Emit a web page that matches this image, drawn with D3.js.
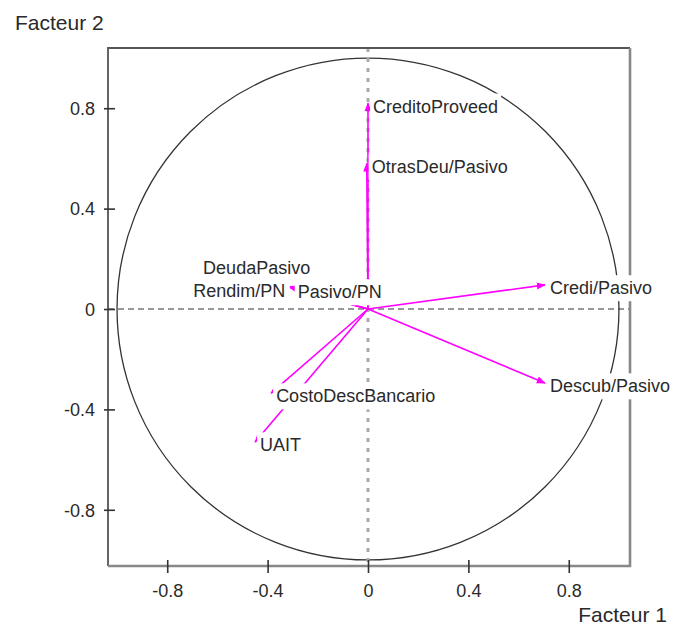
<!DOCTYPE html>
<html>
<head>
<meta charset="utf-8">
<script src="https://cdn.jsdelivr.net/npm/d3@7"></script>
<style>
  body { margin: 0; background: #fff; }
  svg text { font-family: "Liberation Sans", Arial, sans-serif; fill: #2a2a2a; }
</style>
</head>
<body>
<div id="chart_area"></div>
<script>
// variables of the correlation circle
var names  = ["CreditoProveed", "OtrasDeu/Pasivo", "Credi/Pasivo", "Descub/Pasivo",
              "CostoDescBancario", "UAIT", "DeudaPasivo", "Rendim/PN", "Pasivo/PN"];
var fact1  = [0.0, -0.005, 0.705, 0.705, -0.386, -0.45, -0.31, -0.31, -0.30];
var fact2  = [0.82, 0.58, 0.096, -0.295, -0.335, -0.53, 0.09, 0.085, 0.08];
// where the label sits against the tip
var labelSide = ["right", "right", "right", "right", "right", "right", "up", "left", "right"];
var tickVals = [-0.8, -0.4, 0, 0.4, 0.8];

var w = 680;
var h = 626;

var svg = d3.select("#chart_area")
  .append("svg")
  .attr("width", w)
  .attr("height", h);

var x = d3.scaleLinear().domain([-1.036, 1.044]).range([108, 630]);
var y = d3.scaleLinear().domain([-1.024, 1.04]).range([566, 48]);

// arrow head
svg.append("defs").append("marker")
  .attr("id", "head")
  .attr("viewBox", "0 -5 10 10")
  .attr("refX", 9)
  .attr("refY", 0)
  .attr("markerUnits", "userSpaceOnUse")
  .attr("markerWidth", 9)
  .attr("markerHeight", 9)
  .attr("orient", "auto")
  .append("path")
  .attr("d", "M0,-4L10,0L0,4Z")
  .attr("fill", "#ff00ff");

// unit circle
svg.append("circle")
  .attr("cx", x(0))
  .attr("cy", y(0))
  .attr("r", x(1) - x(0))
  .attr("fill", "none")
  .attr("stroke", "#333")
  .attr("stroke-width", 1.3);

// dashed zero lines
svg.append("line")
  .attr("x1", x.range()[0]).attr("x2", x.range()[1])
  .attr("y1", y(0)).attr("y2", y(0))
  .attr("stroke", "#333")
  .attr("stroke-width", 1.2)
  .attr("stroke-dasharray", "6,4");

svg.append("line")
  .attr("x1", x(0)).attr("x2", x(0))
  .attr("y1", y.range()[1]).attr("y2", y.range()[0])
  .attr("stroke", "#aaa")
  .attr("stroke-width", 3)
  .attr("stroke-dasharray", "4,6");

// frame
var x0 = x.range()[0], x1 = x.range()[1], y0 = y.range()[1], y1 = y.range()[0];
svg.append("path")
  .attr("d", "M" + x0 + "," + y1 + "V" + y0 + "H" + x1)
  .attr("fill", "none")
  .attr("stroke", "#555")
  .attr("stroke-width", 1.8);
svg.append("path")
  .attr("d", "M" + x0 + "," + y1 + "H" + x1 + "V" + y0)
  .attr("fill", "none")
  .attr("stroke", "#888")
  .attr("stroke-width", 2.6);

// axes
var xAxis = d3.axisBottom(x)
  .tickValues(tickVals)
  .tickFormat(function(d){ return String(d); });

svg.append("g")
  .attr("transform", "translate(0," + y1 + ")")
  .call(xAxis)
  .call(function(g){
    g.select(".domain").remove();
    g.selectAll(".tick line").attr("y1", -6).attr("y2", 7).attr("stroke", "#333").attr("stroke-width", 1.6);
    g.selectAll(".tick text").attr("y", 31).attr("dy", 0).attr("font-size", 18).attr("fill", "#2a2a2a");
  });

var yAxis = d3.axisLeft(y)
  .tickValues(tickVals)
  .tickFormat(function(d){ return String(d); });

svg.append("g")
  .attr("transform", "translate(" + x0 + ",0)")
  .call(yAxis)
  .call(function(g){
    g.select(".domain").remove();
    g.selectAll(".tick line").attr("x1", -4).attr("x2", 7).attr("stroke", "#333").attr("stroke-width", 1.6);
    g.selectAll(".tick text").attr("x", -13).attr("dy", "0.35em").attr("font-size", 18).attr("fill", "#2a2a2a");
  });

// axis titles
svg.append("text")
  .attr("x", 15)
  .attr("y", 30)
  .attr("font-size", 21)
  .text("Facteur 2");

svg.append("text")
  .attr("x", 667)
  .attr("y", 622)
  .attr("text-anchor", "end")
  .attr("font-size", 21)
  .text("Facteur 1");

// vectors
var vars = names.map(function(n, i){
  return { name: n, f1: fact1[i], f2: fact2[i], side: labelSide[i] };
});

svg.append("g")
  .selectAll("line")
  .data(vars)
  .enter()
  .append("line")
  .attr("x1", x(0))
  .attr("y1", y(0))
  .attr("x2", function(d){ return x(d.f1); })
  .attr("y2", function(d){ return y(d.f2); })
  .attr("stroke", "#ff00ff")
  .attr("stroke-width", 1.6)
  .attr("marker-end", "url(#head)");

// labels with white box behind
var labels = svg.append("g")
  .selectAll("g")
  .data(vars)
  .enter()
  .append("g");

labels.append("text")
  .attr("font-size", 18)
  .attr("x", function(d){
    var px = x(d.f1);
    if (d.side == "left") return px - 5;
    if (d.side == "up") return px + 20;
    return px + 5;
  })
  .attr("y", function(d){
    var py = y(d.f2);
    if (d.side == "up") return py - 19;
    return py + 3;
  })
  .attr("dy", "0.35em")
  .attr("text-anchor", function(d){ return d.side == "right" ? "start" : "end"; })
  .text(function(d){ return d.name; });

labels.each(function(){
  var g = d3.select(this);
  var b = g.select("text").node().getBBox();
  g.insert("rect", "text")
    .attr("x", b.x - 3)
    .attr("y", b.y - 3)
    .attr("width", b.width + 6)
    .attr("height", b.height + 6)
    .attr("fill", "#fff");
});
</script>
</body>
</html>
